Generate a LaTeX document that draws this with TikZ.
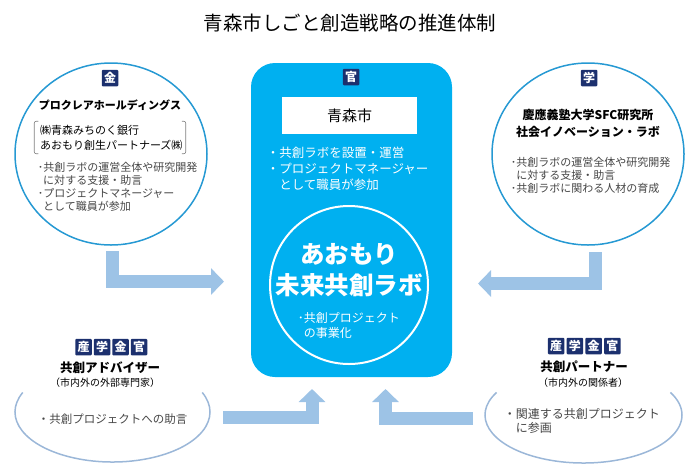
\documentclass[tikz,border=0pt]{standalone}
\usepackage{fontspec}
\setmainfont{Noto Sans CJK JP}
\usepackage{tikz}
\usetikzlibrary{positioning, shapes.geometric, arrows.meta}
\definecolor{labcyan}{RGB}{0,176,240}
\definecolor{tagnavy}{RGB}{28,48,110}
\definecolor{ringblue}{RGB}{38,153,211}
\definecolor{ovalblue}{RGB}{155,183,216}
\definecolor{arrowblue}{RGB}{157,195,230}
\definecolor{notegray}{RGB}{70,70,70}
\tikzset{
	tag/.style={fill=tagnavy, text=white, font=\bfseries\fontsize{12}{12}\selectfont,
		minimum size=16.5pt, inner sep=0pt, rounded corners=1pt}
}
\tikzset{
	headtext/.style={font=\bfseries\fontsize{12}{16.5}\selectfont, align=center, inner sep=0pt},
	subtext/.style={font=\fontsize{10}{12}\selectfont, inner sep=0pt},
	notetext/.style={font=\fontsize{11}{13}\selectfont, text=notegray, align=left,
		anchor=north west, inner sep=0pt},
	whitetext/.style={font=\fontsize{12.5}{16}\selectfont, text=white, align=left,
		anchor=north west, inner sep=0pt},
	blockarrow/.style={draw=arrowblue, line width=13pt, line join=miter,
		-{Triangle[length=13pt, width=26pt]}}
}

\begin{document}
\begin{tikzpicture}[x=1pt, y=-1pt, line width=1.5pt]
      \useasboundingbox (0,0) rectangle (700,472);
      \node[font=\fontsize{19.5}{22}\selectfont] (title) at (350,23) {青森市しごと創造戦略の推進体制};
      % center: lab box
      \node[fill=labcyan, rounded corners=24pt, minimum width=201pt, minimum height=314pt] (lab) at (351.5,220) {};
      \node[tag] (labtag) at (351,77) {官};
      \node[fill=white, minimum width=135pt, minimum height=37pt, font=\fontsize{15}{15}\selectfont] (city) at (349.5,115.5) {青森市};
      \node[whitetext] (citynote) at (266,146) {・共創ラボを設置・運営\\・プロジェクトマネージャー\\\hspace{1em}として職員が参加};
      \draw[white, line width=2pt] (349,285) circle (79);
      \node[font=\bfseries\fontsize{24.5}{31}\selectfont, text=white, align=center] (labname) at (349,270) {あおもり\\未来共創ラボ};
      \node[whitetext, font=\fontsize{12}{15}\selectfont] (labnote) at (297,311.5) {･共創プロジェクト\\\hspace{0.5em}の事業化};
      % left circle (kin)
      \node[ellipse, draw=ringblue, minimum width=192pt, minimum height=182pt] (kin) at (111,154) {};
      \node[tag] (kintag) at (110,78) {金};
      \node[headtext, font=\bfseries\fontsize{11}{15}\selectfont] (kinhead) at (110,105) {プロクレアホールディングス};
      \node[font=\fontsize{11}{15}\selectfont, text width=140pt, align=left, inner xsep=5pt, inner ysep=0pt,
        minimum height=31pt] (bank) at (110,137.5) {㈱青森みちのく銀行\\あおもり創生パートナーズ㈱};
      \draw[gray, line width=0.6pt, rounded corners=2pt] ([xshift=4pt]bank.north west) -- (bank.north west) -- (bank.south west) -- ([xshift=4pt]bank.south west);
      \draw[gray, line width=0.6pt, rounded corners=2pt] ([xshift=-4pt]bank.north east) -- (bank.north east) -- (bank.south east) -- ([xshift=-4pt]bank.south east);
      \node[notetext] (kinnote) at (37,161.5) {･共創ラボの運営全体や研究開発\\\hspace{0.5em}に対する支援・助言\\･プロジェクトマネージャー\\\hspace{0.5em}として職員が参加};
      % right circle (gaku)
      \node[ellipse, draw=ringblue, minimum width=192pt, minimum height=182pt] (gaku) at (588,154) {};
      \node[tag] (gakutag) at (589,78) {学};
      \node[headtext] (gakuhead) at (588,123.5) {慶應義塾大学SFC研究所\\社会イノベーション・ラボ};
      \node[notetext] (gakunote) at (510,156) {･共創ラボの運営全体や研究開発\\\hspace{0.5em}に対する支援・助言\\･共創ラボに関わる人材の育成};
      % bottom left: adviser
      \foreach \c [count=\i] in {産,学,金,官}
        \node[tag] (advtag\i) at (65+18.5*\i,347) {\c};
      \node[headtext, font=\bfseries\fontsize{12.5}{15}\selectfont] (advhead) at (110,368) {共創アドバイザー};
      \node[subtext] (advsub) at (105,383) {（市内外の外部専門家）};
      \draw[ovalblue] (112.5,412) ++(203:97.5 and 50) arc[start angle=203, end angle=-23, x radius=97.5, y radius=50];
      \node[notetext, font=\fontsize{11.5}{14}\selectfont] (advnote) at (37,413) {・共創プロジェクトへの助言};
      % bottom right: partner
      \foreach \c [count=\i] in {産,学,金,官}
        \node[tag] (parttag\i) at (537.5+18.7*\i,346) {\c};
      \node[headtext, font=\bfseries\fontsize{12.5}{15}\selectfont] (parthead) at (584,367) {共創パートナー};
      \node[subtext] (partsub) at (583,383) {（市内外の関係者）};
      \draw[ovalblue] (583.5,415) ++(208:98.5 and 48) arc[start angle=208, end angle=-28, x radius=98.5, y radius=48];
      \node[notetext, font=\fontsize{12}{14}\selectfont] (partnote) at (503,408) {・関連する共創プロジェクト\\\hspace{1em}に参画};
      % arrows into the lab
      \coordinate (kinout) at (112.5,251);
      \coordinate (labinL) at (224,281.5);
      \coordinate (gakuout) at (595,252);
      \coordinate (labinR) at (478,283.5);
      \coordinate (advout) at (223,417.5);
      \coordinate (labinBL) at (312,389);
      \coordinate (partout) at (473,418.5);
      \coordinate (labinBR) at (385.5,389);
      \draw[blockarrow] (kinout) |- (labinL);
      \draw[blockarrow] (gakuout) |- (labinR);
      \draw[blockarrow] (advout) -| (labinBL);
      \draw[blockarrow] (partout) -| (labinBR);
    \end{tikzpicture}
\end{document}
